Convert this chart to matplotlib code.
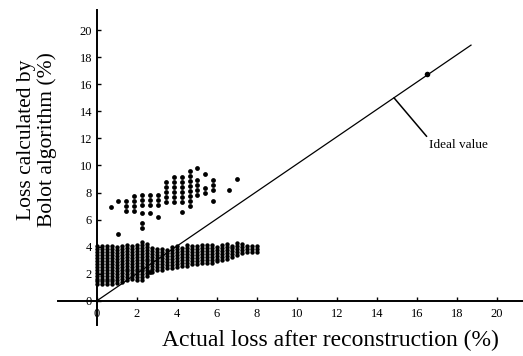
import numpy as np
import matplotlib
matplotlib.use("Agg")
import matplotlib.pyplot as plt

plt.rcParams['font.family'] = ['Liberation Serif', 'DejaVu Serif']

# lower cluster: columns of dots (x, lowest y, highest y), 0.22 % steps
low_x = [0, .25, .5, .75, 1, 1.25, 1.5, 1.75, 2, 2.25, 2.5, 2.75, 3, 3.25, 3.5,
         3.75, 4, 4.25, 4.5, 4.75, 5, 5.25, 5.5, 5.75, 6, 6.25, 6.5, 6.75, 7,
         7.25, 7.5, 7.75, 8]
low_lo = [1.2, 1.2, 1.2, 1.2, 1.3, 1.4, 1.5, 1.6, 1.5, 1.5, 1.8, 2.1, 2.3, 2.3,
          2.4, 2.4, 2.5, 2.6, 2.6, 2.7, 2.7, 2.8, 2.8, 2.8, 2.9, 3.0, 3.1, 3.2,
          3.4, 3.5, 3.6, 3.6, 3.6]
low_hi = [4.1, 4.1, 4.1, 4.1, 4.1, 4.1, 4.2, 4.1, 4.3, 4.5, 4.3, 3.9, 3.9, 3.9,
          3.9, 4.0, 4.2, 4.1, 4.2, 4.2, 4.2, 4.2, 4.2, 4.2, 4.2, 4.2, 4.3, 4.2,
          4.4, 4.2, 4.2, 4.1, 4.1]
low_step = 0.22

# upper cluster: columns of dots, 0.37 % steps
up_x = [1.45, 1.85, 2.25, 2.65, 3.05, 3.45, 3.85, 4.25, 4.65, 5.0, 5.4, 5.8]
up_lo = [6.6, 6.6, 7.1, 7.1, 7.1, 7.3, 7.3, 7.3, 7.0, 7.8, 8.0, 8.2]
up_hi = [7.35, 7.8, 8.2, 8.2, 8.2, 9.1, 9.3, 9.4, 9.8, 8.9, 8.6, 9.1]
up_step = 0.37

# isolated dots
iso_x = [0.68, 1.07, 1.05, 2.65, 2.25, 2.25, 2.25, 2.65, 3.05, 4.25, 5.8, 6.6,
         7.0, 5.0, 5.4]
iso_y = [6.95, 7.35, 4.9, 2.1, 5.75, 5.4, 6.45, 6.45, 6.2, 6.55, 7.4, 8.2,
         9.0, 9.8, 9.4]

ideal_x = [0, 18.7]
ideal_y = [0, 18.9]
ideal_pt = (16.5, 16.8)

ticks = [0, 2, 4, 6, 8, 10, 12, 14, 16, 18, 20]


def expand(xs, los, his, step):
    px, py = [], []
    for x, lo, hi in zip(xs, los, his):
        ys = np.arange(lo, hi + 0.01, step)
        px += [x] * len(ys)
        py += list(ys)
    return px, py


fig = plt.figure(figsize=(5.23, 3.56), dpi=100)
ax = fig.add_axes([0.111, 0.087, 0.889, 0.885])

lx, ly = expand(low_x, low_lo, low_hi, low_step)
ux, uy = expand(up_x, up_lo, up_hi, up_step)
ax.scatter(lx, ly, s=10, c='black', linewidths=0)
ax.scatter(ux, uy, s=12, c='black', linewidths=0)
ax.scatter(iso_x, iso_y, s=12, c='black', linewidths=0)
ax.scatter([ideal_pt[0]], [ideal_pt[1]], s=16, c='black', linewidths=0)

ax.plot(ideal_x, ideal_y, color='black', lw=0.9)
ax.annotate('Ideal value', xy=(14.85, 15.0), xytext=(16.6, 11.5),
            fontsize=9.5, va='center', ha='left',
            arrowprops=dict(arrowstyle='-', color='black', lw=1.1,
                            shrinkA=0, shrinkB=0, relpos=(0, 1)))

ax.set_xlim(-1.95, 21.3)
ax.set_ylim(-1.8, 21.5)
for side in ['top', 'right']:
    ax.spines[side].set_visible(False)
ax.spines['left'].set_position(('data', 0))
ax.spines['bottom'].set_position(('data', 0))
ax.spines['left'].set_linewidth(1.4)
ax.spines['bottom'].set_linewidth(1.4)
ax.set_xticks(ticks)
ax.set_yticks(ticks)
ax.tick_params(direction='in', length=3, width=1, labelsize=9)
ax.tick_params(axis='x', pad=5)

fig.text(37 / 523, 1 - 140 / 356, 'Loss calculated by\nBolot algorithm (%)',
         rotation=90, ha='center', va='center', fontsize=15.5,
         multialignment='center', linespacing=1.08)
fig.text(330 / 523, 1 - 340 / 356, 'Actual loss after reconstruction (%)',
         ha='center', va='center', fontsize=17)

fig.savefig('out.png', dpi=100)
